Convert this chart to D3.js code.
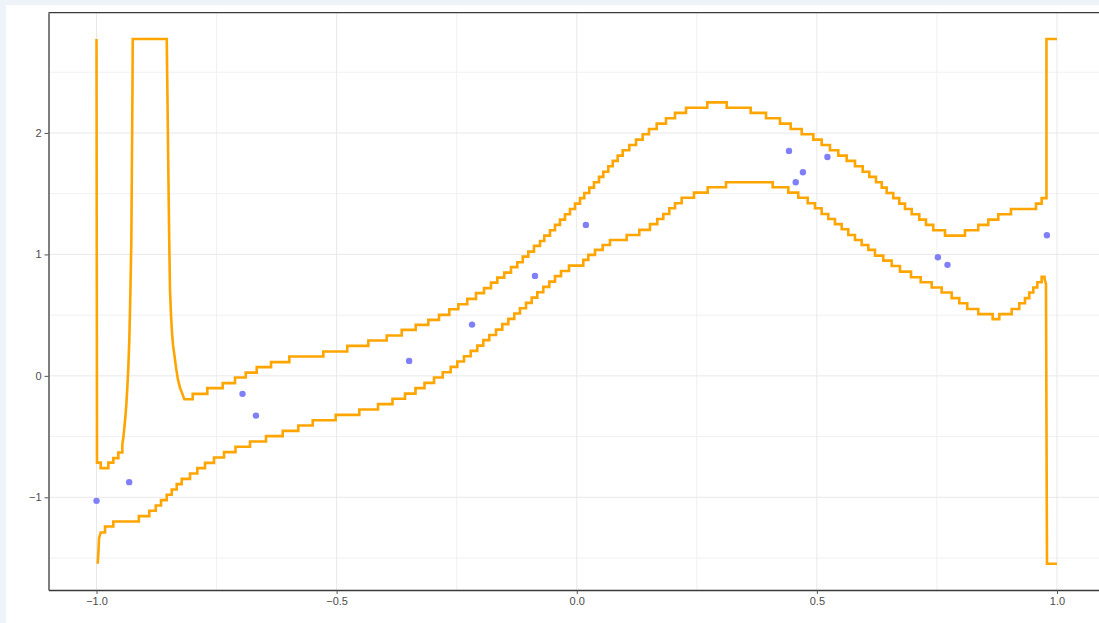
<!DOCTYPE html>
<html>
<head>
<meta charset="utf-8">
<script src="https://cdn.jsdelivr.net/npm/d3@7"></script>
<style>
  html, body { margin: 0; padding: 0; background: #eef2f9; }
  svg { display: block; }
</style>
</head>
<body>
<div id="vis"></div>
<script>

// observed points
var pointX = [-1.0, -0.932, -0.696, -0.668, -0.349, -0.218, -0.087, 0.019, 0.442, 0.456, 0.471, 0.522, 0.752, 0.772, 0.979];
var pointY = [-1.029, -0.875, -0.148, -0.327, 0.123, 0.422, 0.823, 1.243, 1.852, 1.594, 1.677, 1.802, 0.977, 0.914, 1.158];

// upper band (step positions)
var upperX = [-1.0, -0.999, -0.9913, -0.9754, -0.9650, -0.9546, -0.9463, -0.9442, -0.9421, -0.9401,
  -0.9380, -0.9359, -0.9338, -0.9317, -0.9296, -0.9275, -0.9261, -0.9250, -0.9246, -0.8538,
  -0.8522, -0.8505, -0.8486, -0.8470, -0.8449, -0.8428, -0.8407, -0.8376, -0.8344, -0.8303,
  -0.8261, -0.8220, -0.8172, -0.7997, -0.7693, -0.7372, -0.7116, -0.6893, -0.6664, -0.6366,
  -0.5985, -0.5277, -0.4778, -0.4340, -0.3957, -0.3645, -0.3353, -0.3091, -0.2868, -0.2654,
  -0.2466, -0.2279, -0.2098, -0.1931, -0.1786, -0.1654, -0.1509, -0.1369, -0.1238, -0.1125,
  -0.1009, -0.0890, -0.0765, -0.0676, -0.0557, -0.0453, -0.0349, -0.0245, -0.0141, -0.0036,
  0.0068, 0.0157, 0.0261, 0.0359, 0.0463, 0.0553, 0.0657, 0.0749, 0.0853, 0.0957,
  0.1094, 0.1234, 0.1373, 0.1504, 0.1665, 0.1858, 0.2046, 0.2275, 0.2718, 0.3122,
  0.3622, 0.3941, 0.4232, 0.4455, 0.4684, 0.4926, 0.5100, 0.5273, 0.5446, 0.5621,
  0.5794, 0.5954, 0.6092, 0.6231, 0.6350, 0.6454, 0.6591, 0.6716, 0.6835, 0.6975,
  0.7133, 0.7272, 0.7424, 0.7668, 0.8084, 0.8361, 0.8570, 0.8778, 0.9042, 0.9563,
  0.9681, 0.9781, 1.0];
var upperY = [2.774, -0.714, -0.760, -0.714, -0.677, -0.631, -0.568, -0.510, -0.428, -0.346,
  -0.239, -0.099, 0.066, 0.296, 0.667, 1.119, 1.860, 2.436, 2.774, 2.774,
  2.272, 1.695, 1.119, 0.708, 0.502, 0.354, 0.255, 0.165, 0.066, -0.033,
  -0.099, -0.140, -0.192, -0.148, -0.101, -0.060, -0.014, 0.027, 0.072, 0.113,
  0.159, 0.200, 0.247, 0.291, 0.332, 0.379, 0.420, 0.461, 0.502, 0.549,
  0.590, 0.634, 0.681, 0.722, 0.768, 0.809, 0.850, 0.895, 0.936, 0.982,
  1.023, 1.070, 1.111, 1.155, 1.199, 1.243, 1.286, 1.331, 1.374, 1.418,
  1.463, 1.506, 1.550, 1.594, 1.638, 1.681, 1.726, 1.770, 1.813, 1.858,
  1.901, 1.945, 1.989, 2.033, 2.077, 2.121, 2.165, 2.208, 2.252, 2.208,
  2.165, 2.121, 2.077, 2.033, 1.989, 1.945, 1.901, 1.858, 1.813, 1.770,
  1.726, 1.681, 1.638, 1.594, 1.550, 1.506, 1.463, 1.418, 1.374, 1.331,
  1.286, 1.243, 1.199, 1.155, 1.199, 1.243, 1.286, 1.331, 1.374, 1.418,
  1.463, 2.774, 2.774];

// lower band (step positions)
var lowerX = [-0.9975, -0.9958, -0.9948, -0.9913, -0.9823, -0.9650, -0.9119, -0.8901, -0.8767, -0.8657,
  -0.8538, -0.8434, -0.8330, -0.8226, -0.8053, -0.7901, -0.7741, -0.7553, -0.7345, -0.7106,
  -0.6804, -0.6471, -0.6123, -0.5798, -0.5498, -0.5019, -0.4528, -0.4138, -0.3837, -0.3576,
  -0.3358, -0.3170, -0.2972, -0.2791, -0.2625, -0.2487, -0.2348, -0.2208, -0.2071, -0.1946,
  -0.1821, -0.1681, -0.1550, -0.1425, -0.1300, -0.1182, -0.1057, -0.0938, -0.0821, -0.0697,
  -0.0572, -0.0453, -0.0328, -0.0161, 0.0136, 0.0241, 0.0380, 0.0540, 0.0692, 0.1040,
  0.1302, 0.1525, 0.1677, 0.1802, 0.1927, 0.2046, 0.2185, 0.2441, 0.2727, 0.3108,
  0.4080, 0.4405, 0.4613, 0.4809, 0.4961, 0.5100, 0.5238, 0.5377, 0.5517, 0.5654,
  0.5794, 0.5933, 0.6071, 0.6210, 0.6383, 0.6558, 0.6731, 0.6960, 0.7162, 0.7391,
  0.7599, 0.7807, 0.7966, 0.8132, 0.8361, 0.8661, 0.8799, 0.9057, 0.9215, 0.9334,
  0.9423, 0.9507, 0.9590, 0.9681, 0.9740, 0.9771, 0.9792, 1.0];
var lowerY = [-1.547, -1.432, -1.336, -1.290, -1.240, -1.199, -1.155, -1.111, -1.067, -1.023,
  -0.979, -0.936, -0.891, -0.848, -0.804, -0.760, -0.716, -0.672, -0.628, -0.584,
  -0.541, -0.496, -0.453, -0.409, -0.365, -0.321, -0.277, -0.233, -0.189, -0.146,
  -0.101, -0.058, -0.014, 0.030, 0.074, 0.118, 0.162, 0.206, 0.249, 0.294,
  0.337, 0.381, 0.426, 0.469, 0.513, 0.557, 0.601, 0.644, 0.689, 0.733,
  0.776, 0.821, 0.864, 0.908, 0.955, 0.996, 1.037, 1.078, 1.119, 1.160,
  1.202, 1.249, 1.292, 1.333, 1.380, 1.421, 1.467, 1.509, 1.553, 1.594,
  1.553, 1.509, 1.467, 1.421, 1.380, 1.333, 1.292, 1.249, 1.207, 1.160,
  1.119, 1.078, 1.037, 0.990, 0.949, 0.905, 0.858, 0.812, 0.771, 0.727,
  0.686, 0.640, 0.598, 0.551, 0.508, 0.467, 0.508, 0.551, 0.598, 0.640,
  0.686, 0.727, 0.771, 0.815, 0.798, 0.757, -1.547, -1.547];

// tick values
var xTicks = [-1.0, -0.5, 0.0, 0.5, 1.0];
var xMinor = [-0.75, -0.25, 0.25, 0.75];
var yTicks = [-1, 0, 1, 2];
var yMinor = [-1.5, -0.5, 0.5, 1.5, 2.5];

var W = 1099, H = 623;
var margin = { top: 12.7, right: -6, bottom: 33, left: 48.5 };
var width = W - margin.left - margin.right;
var height = H - margin.top - margin.bottom;

var svg = d3.select("#vis").append("svg")
  .attr("width", W)
  .attr("height", H);

// white panel
svg.append("rect")
  .attr("x", 6).attr("y", 5)
  .attr("width", W - 6).attr("height", H - 5)
  .attr("fill", "#ffffff");

var g = svg.append("g")
  .attr("transform", "translate(" + margin.left + "," + margin.top + ")");

// domains: data range plus 5% each side
var allX = pointX.concat(upperX, lowerX);
var allY = pointY.concat(upperY, lowerY);
var xe = d3.extent(allX), ye = d3.extent(allY);
var xPad = (xe[1] - xe[0]) * 0.05, yPad = (ye[1] - ye[0]) * 0.05;

var x = d3.scaleLinear().domain([xe[0] - xPad, xe[1] + xPad]).range([0, width]);
var y = d3.scaleLinear().domain([ye[0] - yPad, ye[1] + yPad]).range([height, 0]);

// grid
g.selectAll(".gx-minor").data(xMinor).enter().append("line")
  .attr("x1", d => x(d)).attr("x2", d => x(d))
  .attr("y1", 0).attr("y2", height)
  .attr("stroke", "#f0f0f0").attr("stroke-width", 1);
g.selectAll(".gy-minor").data(yMinor).enter().append("line")
  .attr("y1", d => y(d)).attr("y2", d => y(d))
  .attr("x1", 0).attr("x2", width)
  .attr("stroke", "#f0f0f0").attr("stroke-width", 1);
g.selectAll(".gx").data(xTicks).enter().append("line")
  .attr("x1", d => x(d)).attr("x2", d => x(d))
  .attr("y1", 0).attr("y2", height)
  .attr("stroke", "#e8e8e8").attr("stroke-width", 1);
g.selectAll(".gy").data(yTicks).enter().append("line")
  .attr("y1", d => y(d)).attr("y2", d => y(d))
  .attr("x1", 0).attr("x2", width)
  .attr("stroke", "#e8e8e8").attr("stroke-width", 1);

// band lines: wide gaps are steps, very narrow gaps are the steep smooth parts
function bandPoints(xs, ys) {
  var pts = [[xs[0], ys[0]]];
  for (var i = 1; i < xs.length; i++) {
    if (xs[i] - xs[i - 1] > 0.005) pts.push([xs[i], ys[i - 1]]);
    pts.push([xs[i], ys[i]]);
  }
  return pts;
}

var bandLine = d3.line()
  .x(d => x(d[0]))
  .y(d => y(d[1]));

[[upperX, upperY], [lowerX, lowerY]].forEach(function(s) {
  g.append("path")
    .datum(bandPoints(s[0], s[1]))
    .attr("d", bandLine)
    .attr("fill", "none")
    .attr("stroke", "#ffa500")
    .attr("stroke-width", 2.6)
    .attr("stroke-linejoin", "miter");
});

// points
g.selectAll(".pt").data(d3.zip(pointX, pointY)).enter().append("circle")
  .attr("cx", d => x(d[0]))
  .attr("cy", d => y(d[1]))
  .attr("r", 3.2)
  .attr("fill", "#7f7ff7");

// axes
var xAxis = g.append("g")
  .attr("transform", "translate(0," + height + ")")
  .call(d3.axisBottom(x).tickValues(xTicks).tickFormat(d3.format(".1f"))
    .tickSizeInner(4).tickSizeOuter(0).tickPadding(3));
var yAxis = g.append("g")
  .call(d3.axisLeft(y).tickValues(yTicks).tickFormat(d3.format("d"))
    .tickSizeInner(4).tickSizeOuter(0).tickPadding(3));

[xAxis, yAxis].forEach(function(a) {
  a.select(".domain").attr("stroke", "#3a3a3a").attr("stroke-width", 1.3);
  a.selectAll(".tick line").attr("stroke", "#555");
  a.selectAll(".tick text")
    .attr("fill", "#4d4d4d")
    .style("font-family", "'Liberation Sans', Arial, sans-serif")
    .style("font-size", "11px");
});

// panel border top/right
g.append("line")
  .attr("x1", 0).attr("x2", width)
  .attr("y1", 0).attr("y2", 0)
  .attr("stroke", "#3a3a3a").attr("stroke-width", 1.3);
g.append("line")
  .attr("x1", width).attr("x2", width)
  .attr("y1", 0).attr("y2", height)
  .attr("stroke", "#3a3a3a").attr("stroke-width", 1.3);

</script>
</body>
</html>
